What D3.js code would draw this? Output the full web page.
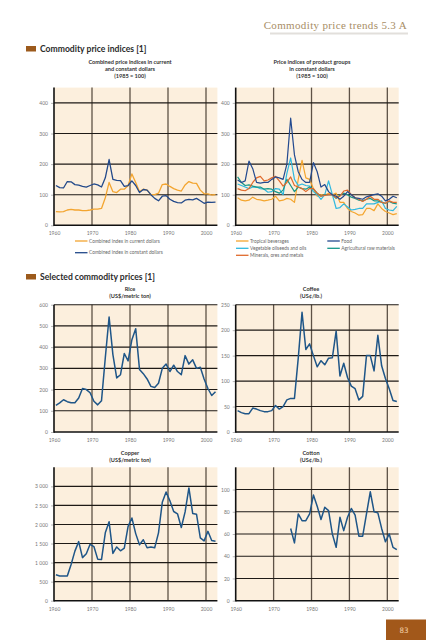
<!DOCTYPE html>
<html><head><meta charset="utf-8">
<script src="https://cdn.jsdelivr.net/npm/d3@7"></script>
<style>
body{margin:0;background:#fff;}
svg{display:block;font-family:Lato,"Open Sans",sans-serif;}
</style></head><body>
<script>
const years = d3.range(1960, 2003);
const combinedCurrent = [45,44,45,50,52,50,50,48,48,50, 53,53,55,90,140,110,107,118,118,130, 168,140,110,118,115,100,100,105,133,135, 127,120,115,112,132,143,138,137,115,103, 103,99,100];
const combinedConstant = [130,123,122,143,142,133,131,127,125,130, 135,132,125,155,215,150,147,146,127,130, 145,130,107,117,115,100,88,80,95,97, 85,78,74,73,82,85,83,88,80,72, 76,75,76];
const tropicalBeverages = [90,82,80,82,92,85,83,80,82,85, 95,80,82,88,85,75,150,212,155,150, 120,95,100,98,105,100,105,75,75,55, 45,40,33,35,55,55,48,70,55,45, 40,35,38];
const vegetableOilseeds = [135,130,125,120,125,125,120,118,108,110, 120,118,100,170,220,150,130,135,130,128, 110,100,85,100,145,100,55,58,70,60, 50,52,55,55,70,70,70,75,80,55, 50,48,62];
const mineralsOres = [120,115,113,120,140,155,160,145,148,155, 160,145,128,140,158,130,125,120,110,120, 120,105,95,98,100,100,90,95,112,115, 100,90,85,78,85,95,85,85,75,72, 80,75,75];
const food = [148,140,145,210,185,140,138,140,140,150, 158,155,150,200,350,230,175,150,140,140, 205,175,125,133,110,100,95,85,95,110, 100,90,88,85,93,97,100,103,95,80, 85,95,90];
const agriRaw = [158,140,130,132,128,125,125,118,120,118, 110,105,115,150,130,110,125,120,118,125, 118,105,95,100,100,100,88,98,105,100, 92,88,82,80,85,88,80,80,75,72, 78,72,70];
const rice = [125,137,152,143,138,138,160,205,200,185, 145,128,147,350,542,365,255,270,370,335, 435,487,295,275,250,215,210,230,300,320, 285,315,285,270,360,320,340,300,305,250, 205,172,190];
const coffee = [42,38,36,36,47,45,42,40,40,42, 52,45,50,63,66,66,145,235,162,173, 150,128,140,132,145,146,198,110,135,107, 90,85,63,70,150,150,120,190,130,105, 85,62,60];
const copper = [680,650,645,650,950,1300,1550,1130,1230,1480, 1420,1090,1080,1780,2070,1240,1410,1310,1380,1950, 2170,1760,1470,1600,1390,1410,1390,1780,2580,2850, 2620,2340,2280,1920,2330,2960,2290,2270,1650,1570, 1820,1580,1560];
const cottonYears = d3.range(1974, 2003);
const cotton = [65,52,78,72,72,78,95, 85,73,84,81,60,48,75,63,75, 83,77,58,58,78,98,80,79,65,53, 60,48,46];
const xTicks = [1960,1970,1980,1990,2000];
const indexTicks = [0,100,200,300,400];
const riceTicks = [0,100,200,300,400,500,600];
const coffeeTicks = [0,50,100,150,200,250];
const copperTicks = [0,500,1000,1500,2000,2500,3000];
const cottonTicks = [0,20,40,60,80,100];

const svg = d3.select('body').append('svg').attr('width',426).attr('height',640);

// page header
svg.append('line').attr('x1',270).attr('x2',408).attr('y1',33.5).attr('y2',33.5)
  .attr('stroke','#e2dfdb').attr('stroke-width',2.2);
svg.append('text').attr('x',407).attr('y',29).attr('text-anchor','end')
  .attr('font-size',11).attr('letter-spacing',0.35).attr('font-family','"Liberation Serif","DejaVu Serif",serif')
  .attr('fill','#a88e66').text('Commodity price trends  5.3 A');

function sectionHeader(y, text){
  svg.append('rect').attr('x',26).attr('y',y-5.5).attr('width',10).attr('height',5.5).attr('fill','#9c5a1c');
  svg.append('text').attr('x',40).attr('y',y).attr('font-size',8.6).attr('font-weight',700).attr('fill','#2b2b2b').text(text);
}
sectionHeader(51.5,'Commodity price indices [1]');
sectionHeader(279.5,'Selected commodity prices [1]');

function titleBlock(cx, y, lines){
  lines.forEach((t,i)=>svg.append('text').attr('x',cx).attr('y',y+i*7.2).attr('text-anchor','middle')
    .attr('font-size',5.6).attr('font-weight',700).attr('fill','#333').text(t));
}

function panel(o){
  const x = d3.scaleLinear().domain([1960,2003]).range([o.x0,o.x1]);
  const y = d3.scaleLinear().domain([0,o.ymax]).range([o.yb,o.yt]);
  const g = svg.append('g');
  g.append('rect').attr('x',o.x0).attr('y',o.yt).attr('width',o.x1-o.x0).attr('height',o.yb-o.yt).attr('fill','#fcefdd');
  // grid
  g.selectAll('.vg').data(xTicks.slice(1)).join('line')
    .attr('x1',d=>x(d)).attr('x2',d=>x(d)).attr('y1',o.yt).attr('y2',o.yb)
    .attr('stroke','#5e5246').attr('stroke-width',1.3);
  g.selectAll('.hg').data(o.ticks.filter(d=>d>0)).join('line')
    .attr('x1',o.x0).attr('x2',o.x1).attr('y1',d=>y(d)).attr('y2',d=>y(d))
    .attr('stroke','#1e1a16').attr('stroke-width',1.1);
  // axes
  const ax = g.append('g').attr('transform',`translate(${o.x0},0)`)
    .call(d3.axisLeft(y).tickValues(o.ticks).tickSize(3).tickPadding(3).tickFormat(o.fmt||d3.format('d')));
  ax.select('.domain').remove();
  ax.selectAll('line').attr('stroke','#888').attr('stroke-width',0.6);
  ax.selectAll('text').attr('font-size',5).attr('fill','#777').attr('font-family','Lato,sans-serif');
  const bx = g.append('g').attr('transform',`translate(0,${o.yb})`)
    .call(d3.axisBottom(x).tickValues(xTicks).tickSize(0).tickPadding(6.5).tickFormat(d3.format('d')));
  bx.select('.domain').remove();
  bx.selectAll('text').attr('font-size',5).attr('fill','#777').attr('font-family','Lato,sans-serif');
  g.append('line').attr('x1',o.x0).attr('x2',o.x1).attr('y1',o.yb).attr('y2',o.yb).attr('stroke','#111').attr('stroke-width',1.5);
  g.append('line').attr('x1',o.x0).attr('x2',o.x0).attr('y1',o.yt).attr('y2',o.yb+0.75).attr('stroke','#111').attr('stroke-width',1.6);
  // series
  o.series.forEach(s=>{
    const line = d3.line().x((d,i)=>x(s.years[i]+0.5)).y(d=>y(d));
    g.append('path').datum(s.values).attr('d',line).attr('fill','none')
      .attr('stroke',s.color).attr('stroke-width',s.w||1.4).attr('stroke-linejoin','round');
  });
  return {x,y};
}

const LX0=54, LX1=217.4, RX0=235.7, RX1=398.7;
const lineBlue = '#1f5688';

// top row
titleBlock(130,63.5,['Combined price indices in current','and constant dollars','(1985 = 100)']);
titleBlock(312,63.5,['Price indices of product groups','in constant dollars','(1985 = 100)']);
panel({x0:LX0,x1:LX1,yb:225.3,yt:87.6,ymax:450,ticks:indexTicks,series:[
  {years,values:combinedCurrent,color:'#f3a530',w:1.3},
  {years,values:combinedConstant,color:'#22498a',w:1.3}
]});
panel({x0:RX0,x1:RX1,yb:225.3,yt:87.6,ymax:450,ticks:indexTicks,series:[
  {years,values:tropicalBeverages,color:'#f4a52e',w:1.2},
  {years,values:vegetableOilseeds,color:'#2fb8df',w:1.2},
  {years,values:agriRaw,color:'#15968a',w:1.2},
  {years,values:mineralsOres,color:'#e06a2c',w:1.2},
  {years,values:food,color:'#22498f',w:1.2}
]});

// legends
function legendItem(x,y,color,text){
  svg.append('line').attr('x1',x).attr('x2',x+12.5).attr('y1',y).attr('y2',y).attr('stroke',color).attr('stroke-width',1.3);
  svg.append('text').attr('x',x+14).attr('y',y+1.7).attr('font-size',4.8).attr('fill','#666').text(text);
}
legendItem(75,241,'#f3a530','Combined index in current dollars');
legendItem(75,252.7,'#22498a','Combined index in constant dollars');
legendItem(236,241,'#f4a52e','Tropical beverages');
legendItem(236,248.3,'#2fb8df','Vegetable oilseeds and oils');
legendItem(236,255.3,'#e06a2c','Minerals, ores and metals');
legendItem(327.3,241,'#22498f','Food');
legendItem(327.3,248.3,'#15968a','Agricultural raw materials');

// middle row
titleBlock(130,291,['Rice','(US$/metric ton)']);
titleBlock(311,291,['Coffee','(US¢/lb.)']);
panel({x0:LX0,x1:LX1,yb:432,yt:304.7,ymax:600,ticks:riceTicks,series:[{years,values:rice,color:lineBlue,w:1.5}]});
panel({x0:RX0,x1:RX1,yb:432,yt:304.7,ymax:250,ticks:coffeeTicks,series:[{years,values:coffee,color:lineBlue,w:1.5}]});

// bottom row
titleBlock(130,454.5,['Copper','(US$/metric ton)']);
titleBlock(311,454.5,['Cotton','(US¢/lb.)']);
const spaceFmt = d => d>=1000 ? d3.format(',')(d).replace(',', ' ') : String(d);
panel({x0:LX0,x1:LX1,yb:600.7,yt:467.3,ymax:3500,ticks:copperTicks,fmt:spaceFmt,series:[{years,values:copper,color:lineBlue,w:1.5}]});
panel({x0:RX0,x1:RX1,yb:600.7,yt:467.3,ymax:120,ticks:cottonTicks,series:[{years:cottonYears,values:cotton,color:lineBlue,w:1.5}]});

// page number
svg.append('rect').attr('x',386).attr('y',619.5).attr('width',40).attr('height',20.5).attr('fill','#a2581a');
svg.append('text').attr('x',404).attr('y',632.5).attr('text-anchor','middle').attr('font-size',7.5)
  .attr('font-family','DejaVu Sans Mono,monospace').attr('fill','#f2cfa6').text('83');
</script>
</body></html>
